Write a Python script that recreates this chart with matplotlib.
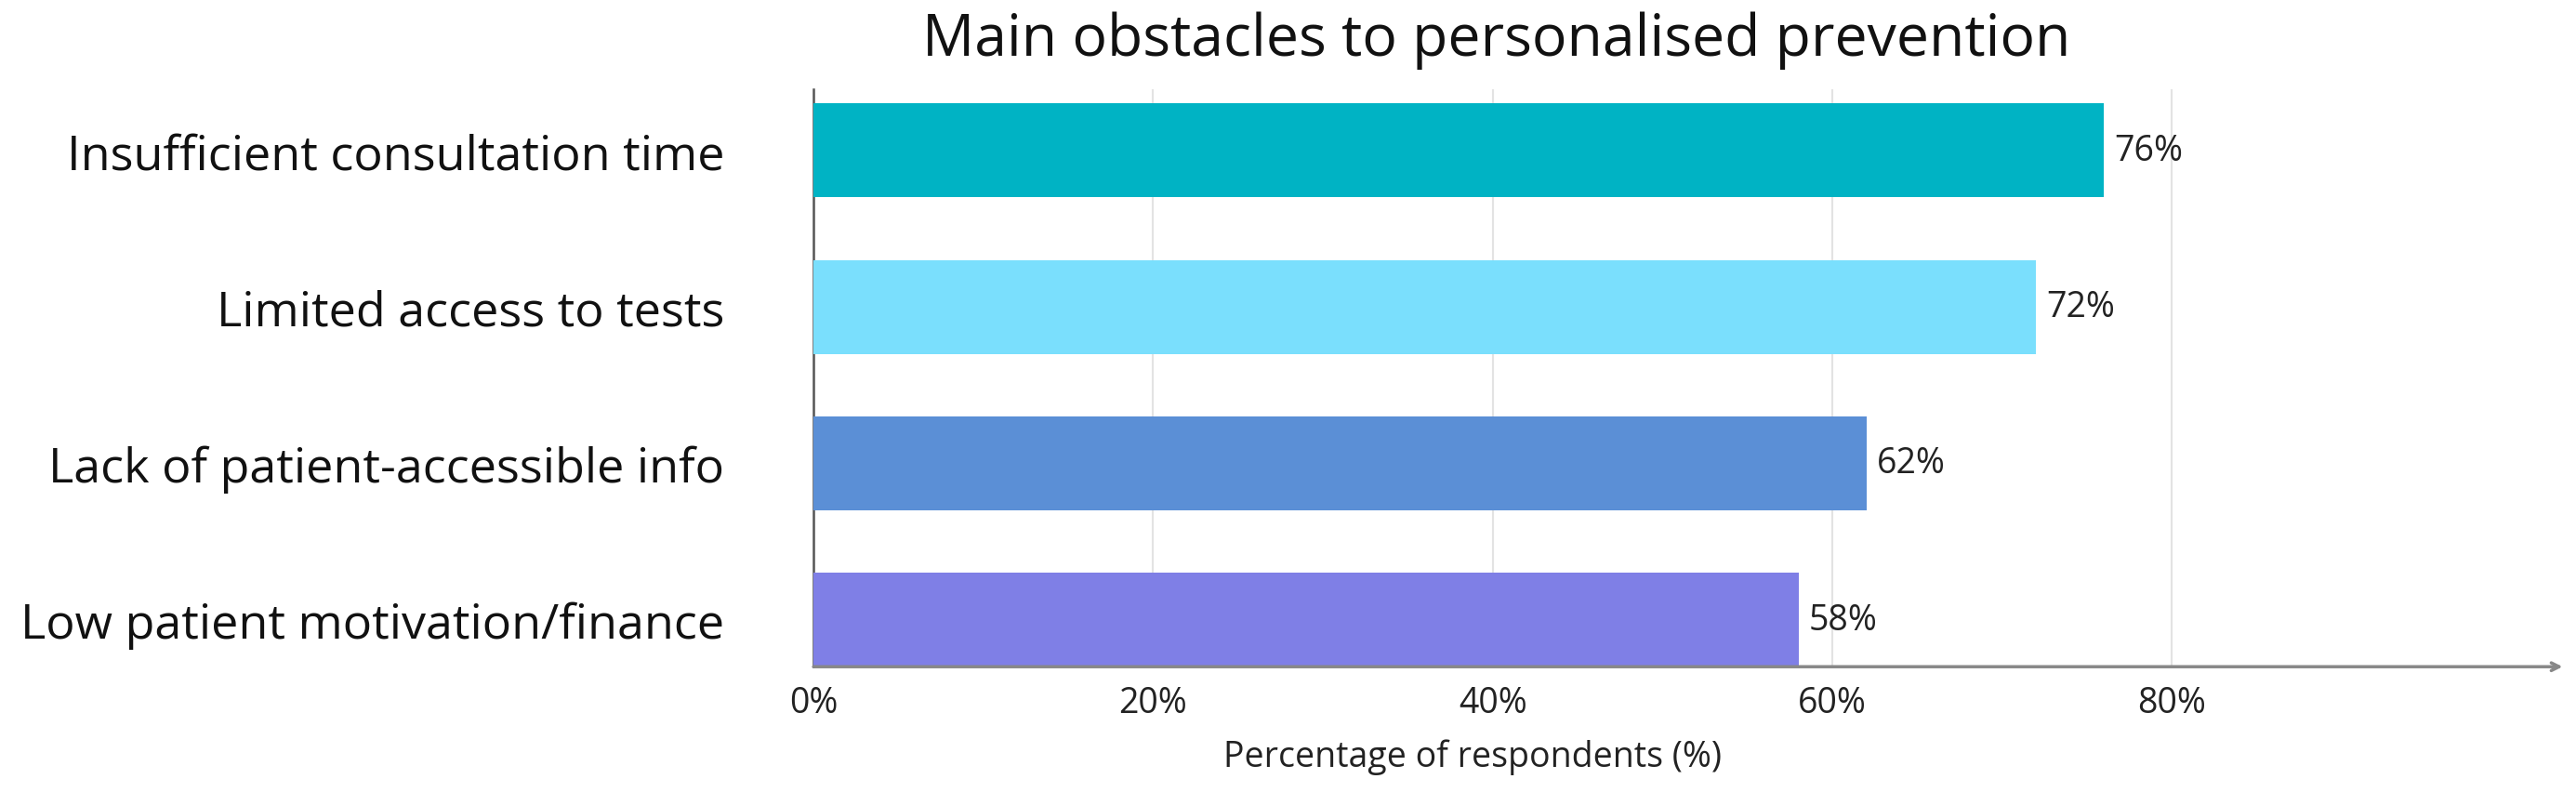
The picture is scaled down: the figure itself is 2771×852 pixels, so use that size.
import matplotlib
matplotlib.use('Agg')
import matplotlib.pyplot as plt

categories = ['Insufficient consultation time', 'Limited access to tests',
              'Lack of patient-accessible info', 'Low patient motivation/finance']
values = [76, 72, 62, 58]
colors = ['#00B3C4', '#7ADFFD', '#5B8FD6', '#7F7FE6']
xticks = [0, 20, 40, 60, 80]
xticklabels = ['0%', '20%', '40%', '60%', '80%']

plt.rcParams['font.family'] = ['Open Sans', 'DejaVu Sans']

fig = plt.figure(figsize=(27.71, 8.53), dpi=100)
ax = fig.add_axes([0.3158, 0.158, 0.679, 0.728])

ypos = list(range(len(categories)))
ax.barh(ypos, values, height=0.6, color=colors, zorder=3)
for y, v in zip(ypos, values):
    ax.text(v + 0.6, y, '%d%%' % v, va='center', ha='left', fontsize=27, color='#222222')

ax.set_xlim(0, 103)
ax.set_ylim(3.3, -0.39)
ax.set_yticks(ypos)
ax.set_yticklabels(categories, fontsize=37.5, color='#111111')
ax.set_xticks(xticks)
ax.set_xticklabels(xticklabels, fontsize=27, color='#222222')
ax.tick_params(axis='both', length=0)
ax.tick_params(axis='y', pad=69)
ax.tick_params(axis='x', pad=14)

ax.grid(axis='x', color='#e3e3e3', linewidth=1.5, zorder=0)
for s in ['top', 'right', 'bottom']:
    ax.spines[s].set_visible(False)
ax.spines['left'].set_color('#555555')
ax.spines['left'].set_linewidth(1.8)

ax.annotate('', xy=(1.0, 0), xytext=(0, 0), xycoords='axes fraction',
            arrowprops=dict(arrowstyle='->', color='#888888', lw=2.5,
                            shrinkA=0, shrinkB=0, mutation_scale=15))

ax.set_xlabel('Percentage of respondents (%)', fontsize=27, color='#222222')
ax.xaxis.set_label_coords(0.377, -0.125)
fig.text(0.581, 0.985, 'Main obstacles to personalised prevention', ha='center', va='top',
         fontsize=45, color='#111111')

fig.savefig('out.png', dpi=100)
